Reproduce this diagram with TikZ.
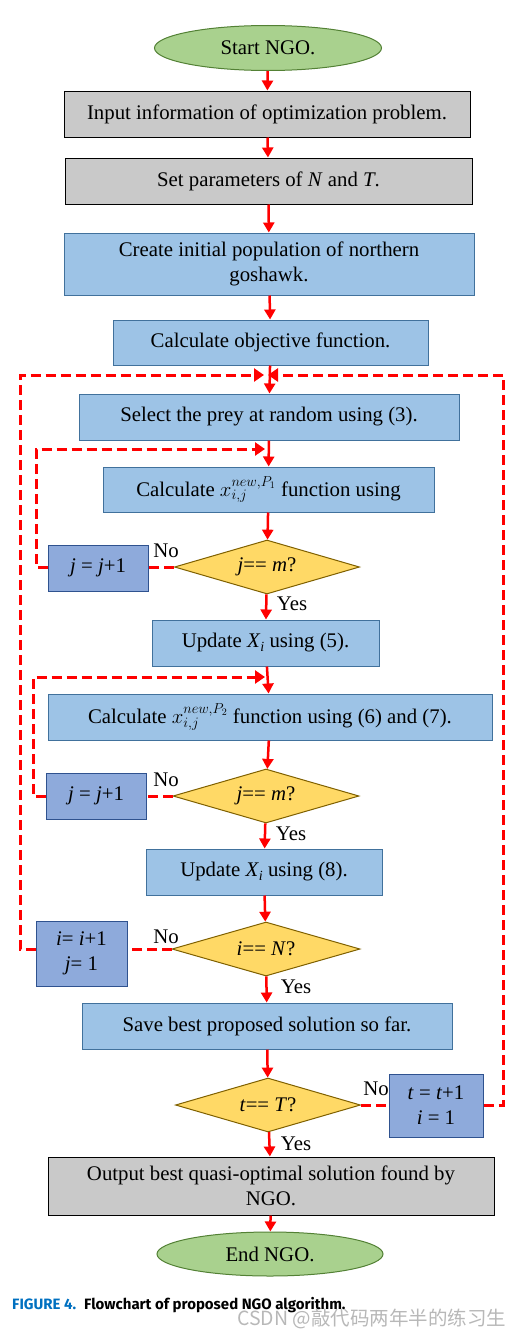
\documentclass[tikz,border=0pt]{standalone}
\usepackage{fontspec}
\setmainfont{Liberation Serif}
\newfontfamily\capfont{Fira Sans}
\newfontfamily\cjkfont{Noto Sans CJK SC}
\usetikzlibrary{shapes.geometric,arrows.meta}
\definecolor{grayfill}{HTML}{C9C9C9}
\definecolor{bluefill}{HTML}{9DC3E6}
\definecolor{blueline}{HTML}{41719C}
\definecolor{incfill}{HTML}{8EAADB}
\definecolor{incline}{HTML}{2F528F}
\definecolor{decfill}{HTML}{FFD966}
\definecolor{decline}{HTML}{7F6000}
\definecolor{termfill}{HTML}{A9D18E}
\definecolor{termline}{HTML}{538135}
\definecolor{capblue}{HTML}{0070C0}
\newcommand{\subit}[1]{\raisebox{-4pt}{\fontsize{14}{14}\selectfont\textit{#1}}}
\newcommand{\xnew}[1]{\textit{x}\raisebox{-1pt}{$\scriptstyle\begin{array}{@{}l@{}}\raisebox{2pt}{$\scriptstyle new,P_{#1}$}\\[-6pt] i,j\end{array}$}}
\tikzset{
  base/.style={inner sep=0pt, font=\fontsize{20.8}{25}\selectfont, align=center, line width=1pt},
  term/.style={base, ellipse, fill=termfill, draw=termline},
  graybox/.style={base, rectangle, fill=grayfill, draw=black},
  bluebox/.style={base, rectangle, fill=bluefill, draw=blueline},
  incbox/.style={base, rectangle, fill=incfill, draw=incline},
  decision/.style={base, diamond, fill=decfill, draw=decline, aspect=3.4},
  flow/.style={red, line width=2.5pt, -{Triangle[length=10pt,width=11pt]}},
  loopline/.style={red, line width=3pt, dash pattern=on 10pt off 5pt},
  looparrow/.style={loopline, -{Triangle[length=10pt,width=13pt]}},
  lbl/.style={font=\fontsize{20.8}{25}\selectfont, inner sep=0pt}
}
\begin{document}
\begin{tikzpicture}[x=1pt,y=-1pt]
\useasboundingbox (0,0) rectangle (524,1330);
\node[term, minimum width=227pt, minimum height=45pt] (start) at (268,48) {Start NGO.};
\node[graybox, minimum width=406pt, minimum height=46pt] (input) at (267,114) {Input information of optimization problem.};
\node[graybox, minimum width=407pt, minimum height=46pt] (param) at (268.5,181) {Set parameters of \textit{N} and \textit{T}.};
\node[bluebox, minimum width=410pt, minimum height=62pt] (create) at (269,264) {Create initial population of northern\\goshawk.};
\node[bluebox, minimum width=315pt, minimum height=45pt] (objf) at (270.5,342.5) {Calculate objective function.};
\node[bluebox, minimum width=380pt, minimum height=46pt] (select) at (269,417) {Select the prey at random using (3).};
\node[bluebox, minimum width=331pt, minimum height=45pt] (calca) at (268.5,489.5) {Calculate $x_{i,j}^{new,P_1}$ function using};
\node[decision, minimum width=185pt, minimum height=54pt] (da) at (267,567) {\textit{j}== \textit{m}?};
\node[incbox, minimum width=100pt, minimum height=46pt] (ja) at (98,568) {\textit{j} = \textit{j}+1};
\node[bluebox, minimum width=227pt, minimum height=46pt] (upda) at (265.5,643) {Update \textit{X}\subit{i} using (5).};
\node[bluebox, minimum width=444pt, minimum height=46pt] (calcb) at (270,717) {Calculate $x_{i,j}^{new,P_2}$ function using (6) and (7).};
\node[decision, minimum width=186pt, minimum height=54pt] (db) at (266,796) {\textit{j}== \textit{m}?};
\node[incbox, minimum width=100pt, minimum height=46pt] (jb) at (96,796) {\textit{j} = \textit{j}+1};
\node[bluebox, minimum width=236pt, minimum height=46pt] (updb) at (264,872) {Update \textit{X}\subit{i} using (8).};
\node[decision, minimum width=188pt, minimum height=54pt] (dc) at (266,949) {\textit{i}== \textit{N}?};
\node[incbox, minimum width=91pt, minimum height=65pt] (ib) at (81.5,953.5) {\textit{i}= \textit{i}+1\\\textit{j}= 1};
\node[bluebox, minimum width=370pt, minimum height=46pt] (save) at (267,1026) {Save best proposed solution so far.};
\node[decision, minimum width=185pt, minimum height=54pt] (dd) at (268,1105) {\textit{t}== \textit{T}?};
\node[incbox, minimum width=94pt, minimum height=63pt] (tb) at (436,1105.5) {\textit{t} = \textit{t}+1\\\textit{i} = 1};
\node[graybox, minimum width=446pt, minimum height=58pt] (output) at (271,1186) {Output best quasi-optimal solution found by\\NGO.};
\node[term, minimum width=226pt, minimum height=44pt] (end) at (270,1254) {End NGO.};

% main flow
\draw[flow] (start) -- (input);
\draw[flow] (input) -- (param);
\draw[flow] (param) -- (create);
\draw[flow] (create) -- (objf);
\draw[flow] (objf) -- (select);
\draw[flow] (select) -- (calca);
\draw[flow] (calca) -- (da);
\draw[flow] (da) -- (upda);
\draw[flow] (upda) -- (calcb);
\draw[flow] (calcb) -- (db);
\draw[flow] (db) -- (updb);
\draw[flow] (updb) -- (dc);
\draw[flow] (dc) -- (save);
\draw[flow] (save) -- (dd);
\draw[flow] (dd) -- (output);
\draw[flow] (output) -- (end);

% merge coordinates
\coordinate (mtop) at (266,375);
\coordinate (ma) at (266,449);
\coordinate (mb) at (266,677);

% inner loop 1
\draw[loopline] (da.west) -- (ja.east |- da.west);
\draw[looparrow] (ja.west |- da.west) -- (36,567) -- (36,449) -- ([xshift=-1pt]ma);
% inner loop 2
\draw[loopline] (db.west) -- (jb.east |- db.west);
\draw[looparrow] (jb.west |- db.west) -- (33,796) -- (33,677) -- ([xshift=-1pt]mb);
% outer loop left
\draw[loopline] (dc.west) -- (ib.east |- dc.west);
\draw[looparrow] (ib.west |- dc.west) -- (20,949) -- (20,375) -- ([xshift=-2pt]mtop);
% outer loop right
\draw[loopline] (dd.east) -- (tb.west |- dd.east);
\draw[looparrow] (tb.east |- dd.east) -- (503,1105) -- (503,375) -- ([xshift=2pt]mtop);

% labels
\node[lbl] (noa) at (166,551) {No};
\node[lbl] (yesa) at (292,604) {Yes};
\node[lbl] (nob) at (166,780) {No};
\node[lbl] (yesb) at (291,834) {Yes};
\node[lbl] (noc) at (166,937) {No};
\node[lbl] (yesc) at (296,987) {Yes};
\node[lbl] (nod) at (376,1089) {No};
\node[lbl] (yesd) at (296,1144) {Yes};

% caption
\node[anchor=base west, inner sep=0pt, font=\capfont\bfseries\fontsize{15}{17}\selectfont] (cap) at (12,1309) {\textcolor{capblue}{FIGURE 4.}\hspace{8pt}Flowchart of proposed NGO algorithm.};
\node[anchor=base west, inner sep=0pt, text=black!35, opacity=0.8, font=\cjkfont\fontsize{19.5}{21}\selectfont] (wm) at (237,1325) {CSDN @敲代码两年半的练习生};
\end{tikzpicture}
\end{document}
